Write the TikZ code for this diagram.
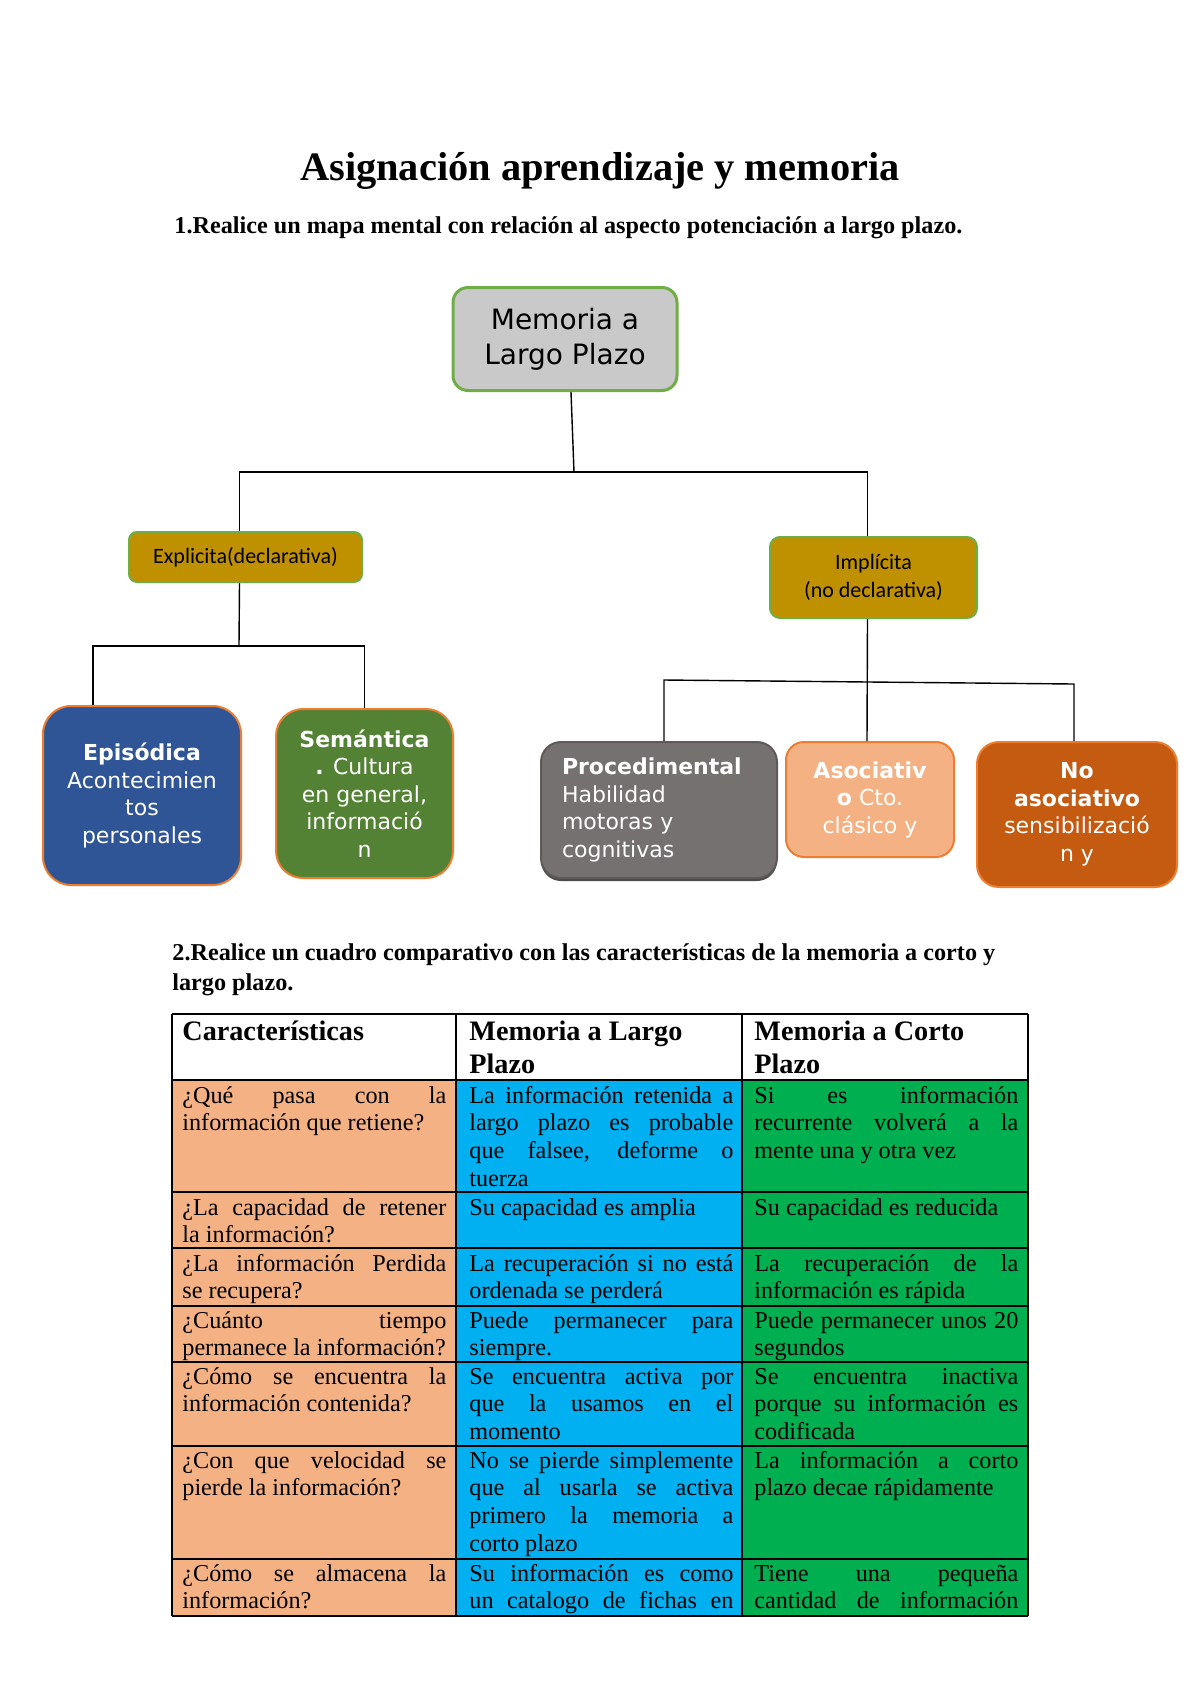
\documentclass[tikz,border=0pt]{standalone}
\usepackage{fontspec}
\setmainfont{Liberation Serif}
\newfontfamily\dvs{DejaVu Sans}
\newfontfamily\clb{Carlito}
\usetikzlibrary{calc}
\definecolor{cgray}{HTML}{C9C9C9}
\definecolor{bordergreen}{HTML}{70AD47}
\definecolor{cgold}{HTML}{BF9000}
\definecolor{cblue}{HTML}{2F5597}
\definecolor{cgreenbox}{HTML}{548235}
\definecolor{corange}{HTML}{ED7D31}
\definecolor{cgraybox}{HTML}{767171}
\definecolor{cpeach}{HTML}{F4B183}
\definecolor{cdkorange}{HTML}{C55A11}
\definecolor{ccyan}{HTML}{00B0F0}
\definecolor{cgreent}{HTML}{00B050}
\newcommand{\J}[1]{\leavevmode\hbox to 132pt{\spaceskip=0pt\xspaceskip=0pt\relax #1}}
\begin{document}
\begin{tikzpicture}[x=0.5pt,y=-0.5pt,
  mapbox/.style={rectangle, align=center, inner sep=0pt, text=white,
    font=\dvs\fontsize{11}{13.75}\selectfont, line width=1pt},
  goldbox/.style={rectangle, align=center, inner sep=0pt, text=black, fill=cgold,
    draw=bordergreen, line width=1pt, font=\clb\fontsize{11}{14}\selectfont},
  conn/.style={draw=black, line width=0.7pt},
  cell/.style={anchor=base west, inner sep=0pt, text width=132pt, align=left,
    font=\fontsize{12.1}{13.9}\selectfont,
    execute at begin node={\spaceskip=0pt\xspaceskip=0pt\hyphenpenalty=10000\relax}},
  head/.style={cell, font=\bfseries\fontsize{14.1}{16.5}\selectfont},
  heading/.style={anchor=base west, inner sep=0pt, font=\bfseries\fontsize{12.1}{14}\selectfont},
  grid/.style={draw=black, line width=0.8pt}]
\useasboundingbox (0,0) rectangle (1200,1698);
\fill[white] (0,0) rectangle (1200,1698);

% titles
\node[anchor=base, inner sep=0pt, font=\bfseries\fontsize{20.2}{24}\selectfont] (title) at (600,180) {Asignación aprendizaje y memoria};
\node[heading] (sub1) at (174,233) {1.Realice un mapa mental con relación al aspecto potenciación a largo plazo.};

% mind map
\node[mapbox, text=black, fill=cgray, draw=bordergreen, line width=1.5pt, rounded corners=7.5pt,
  minimum width=112pt, minimum height=51.5pt, font=\dvs\fontsize{14}{17.5}\selectfont] (mem) at (565,339) {Memoria a\\Largo Plazo};
\node[goldbox, rounded corners=4pt, minimum width=116.5pt, minimum height=25pt] (exp) at (245.5,557) {Explicita(declarativa)};
\node[goldbox, rounded corners=5pt, minimum width=103.5pt, minimum height=40.5pt] (imp) at (873.5,577.5) {Implícita\\(no declarativa)};

\node[mapbox, fill=cblue, draw=corange, rounded corners=14pt, minimum width=99pt, minimum height=89.5pt] (epi) at (142,795.5)
  {\textbf{Episódica}\\Acontecimien\\tos\\personales};
\node[mapbox, fill=cgreenbox, draw=corange, rounded corners=13.5pt, minimum width=88.5pt, minimum height=84.5pt] (sem) at (364.5,793.5)
  {\textbf{Semántica}\\\textbf{.} Cultura\\en general,\\informació\\n};

\fill[rounded corners=10pt, fill=black!70] (541,748) rectangle (777,881);
\node[mapbox, fill=cgraybox, draw=cgraybox!80!black, rounded corners=10pt, minimum width=118pt, minimum height=68pt,
  text width=97pt, align=left] (proc) at (659,810)
  {\textbf{Procedimental}\\Habilidad\\motoras y\\cognitivas};
\node[mapbox, fill=cpeach, draw=corange, rounded corners=9pt, minimum width=84pt, minimum height=57.5pt] (aso) at (870,799.5)
  {\textbf{Asociativ}\\\textbf{o} Cto.\\clásico y};
\node[mapbox, fill=cdkorange, draw=corange, rounded corners=11pt, minimum width=100pt, minimum height=72.5pt] (noas) at (1077,814.5)
  {\textbf{No}\\\textbf{asociativo}\\sensibilizació\\n y};

% connectors
\coordinate (j1) at (574,472);
\coordinate (j2) at (239,646);
\coordinate (h1) at (664,680);
\coordinate (h2) at (1074,684);
\draw[conn] ($(mem.south)+(6,0)$) -- (j1);
\draw[conn] ($(exp.north)+(-6,0)$) |- (j1) -| ($(imp.north)+(-6,0)$);
\draw[conn] ($(exp.south)+(-6,0)$) -- (j2);
\draw[conn] ($(epi.north)+(-49,0)$) |- (j2) -| (sem.north);
\draw[conn] ($(imp.south)+(-6,0)$) -- ($(aso.north)+(-3,0)$);
\draw[conn] ($(proc.north)+(5,0)$) -- (h1) -- (h2) -- ($(noas.north)+(-3,0)$);

% section 2 heading
\node[heading] (sub2a) at (172,960) {2.Realice un cuadro comparativo con las características de la memoria a corto y};
\node[heading] (sub2b) at (172,990) {largo plazo.};

% table
\fill[cpeach] (172,1080) rectangle (456,1616);
\fill[ccyan] (456,1080) rectangle (742,1616);
\fill[cgreent] (742,1080) rectangle (1028,1616);
\foreach \yy in {1014,1080,1192,1248,1306,1362,1446,1559,1616} \draw[grid] (172,\yy) -- (1028,\yy);
\foreach \xx in {172,456,742,1028} \draw[grid] (\xx,1014) -- (\xx,1616);

\node[head] (h11) at (182,1040) {Características};
\node[head] (h12) at (469,1040) {Memoria a Largo\\Plazo};
\node[head] (h13) at (754,1040) {Memoria a Corto\\Plazo};

\node[cell] (c11) at (182,1103) {\J{¿Qué pasa con la}\\información que retiene?};
\node[cell] (c12) at (469,1103) {\J{La información retenida a}\\\J{largo plazo es probable}\\\J{que falsee, deforme o}\\tuerza};
\node[cell] (c13) at (754,1103) {\J{Si es información}\\\J{recurrente volverá a la}\\mente una y otra vez};

\node[cell] (c21) at (182,1215) {\J{¿La capacidad de retener}\\la información?};
\node[cell] (c22) at (469,1215) {Su capacidad es amplia};
\node[cell] (c23) at (754,1215) {Su capacidad es reducida};

\node[cell] (c31) at (182,1271) {\J{¿La información Perdida}\\se recupera?};
\node[cell] (c32) at (469,1271) {\J{La recuperación si no está}\\ordenada se perderá};
\node[cell] (c33) at (754,1271) {\J{La recuperación de la}\\información es rápida};

\node[cell] (c41) at (182,1328) {\J{¿Cuánto tiempo}\\permanece la información?};
\node[cell] (c42) at (469,1328) {\J{Puede permanecer para}\\siempre.};
\node[cell] (c43) at (754,1328) {\J{Puede permanecer unos 20}\\segundos};

\node[cell] (c51) at (182,1384) {\J{¿Cómo se encuentra la}\\información contenida?};
\node[cell] (c52) at (469,1384) {\J{Se encuentra activa por}\\\J{que la usamos en el}\\momento};
\node[cell] (c53) at (754,1384) {\J{Se encuentra inactiva}\\\J{porque su información es}\\codificada};

\node[cell] (c61) at (182,1468) {\J{¿Con que velocidad se}\\pierde la información?};
\node[cell] (c62) at (469,1468) {\J{No se pierde simplemente}\\\J{que al usarla se activa}\\\J{primero la memoria a}\\corto plazo};
\node[cell] (c63) at (754,1468) {\J{La información a corto}\\plazo decae rápidamente};

\node[cell] (c71) at (182,1581) {\J{¿Cómo se almacena la}\\información?};
\node[cell] (c72) at (469,1581) {\J{Su información es como}\\\J{un catalogo de fichas en}};
\node[cell] (c73) at (754,1581) {\J{Tiene una pequeña}\\\J{cantidad de información}};
\end{tikzpicture}
\end{document}
